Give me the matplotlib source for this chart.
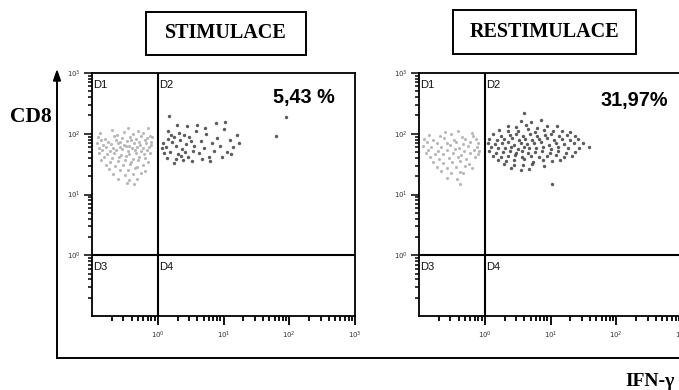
import matplotlib
matplotlib.use("Agg")
import matplotlib.pyplot as plt
import numpy as np
from matplotlib.ticker import FixedLocator, FixedFormatter, NullFormatter
from matplotlib.lines import Line2D
from matplotlib.patches import Rectangle, Polygon

# ---------------- data (fluorescence, in log10 decades) ----------------
panel_titles = ["STIMULACE", "RESTIMULACE"]
percent_labels = ["5,43 %", "31,97%"]
quadrant_names = ["D1", "D2", "D3", "D4"]
tick_exponents = [0, 1, 2, 3]
y_label = "CD8"
x_label = "IFN-\u03b3"

# STIMULACE, quadrant D1 (CD8+, IFN-g-)
stim_d1_x = [-0.70, -0.45, -0.30, -0.15,
             -0.88, -0.62, -0.51, -0.38, -0.22, -0.12,
             -0.91, -0.80, -0.67, -0.55, -0.42, -0.33, -0.25, -0.17, -0.09,
             -0.86, -0.75, -0.64, -0.58, -0.47, -0.40, -0.29, -0.20, -0.11,
             -0.92, -0.83, -0.71, -0.60, -0.52, -0.44, -0.36, -0.27, -0.18, -0.10,
             -0.89, -0.78, -0.68, -0.57, -0.49, -0.39, -0.31, -0.23, -0.14,
             -0.85, -0.73, -0.63, -0.54, -0.46, -0.35, -0.26, -0.16,
             -0.90, -0.77, -0.66, -0.56, -0.43, -0.33, -0.21, -0.12,
             -0.82, -0.69, -0.59, -0.48, -0.37, -0.28, -0.19,
             -0.87, -0.72, -0.61, -0.50, -0.41, -0.30, -0.15,
             -0.79, -0.65, -0.53, -0.42, -0.32, -0.22,
             -0.74, -0.58, -0.45, -0.34, -0.20,
             -0.68, -0.50, -0.38, -0.26,
             -0.60, -0.44, -0.31,
             -0.47, -0.36]
stim_d1_y = [2.06, 2.10, 2.05, 2.09,
             2.01, 1.98, 2.03, 1.99, 2.02, 1.97,
             1.95, 1.92, 1.96, 1.93, 1.95, 1.91, 1.96, 1.93, 1.94,
             1.89, 1.87, 1.90, 1.86, 1.88, 1.90, 1.87, 1.89, 1.86,
             1.84, 1.81, 1.83, 1.85, 1.82, 1.80, 1.84, 1.82, 1.85, 1.81,
             1.77, 1.79, 1.76, 1.78, 1.80, 1.77, 1.79, 1.76, 1.78,
             1.74, 1.71, 1.73, 1.75, 1.72, 1.74, 1.71, 1.73,
             1.68, 1.66, 1.69, 1.65, 1.67, 1.68, 1.66, 1.69,
             1.62, 1.60, 1.61, 1.63, 1.59, 1.62, 1.60,
             1.56, 1.54, 1.55, 1.57, 1.53, 1.56, 1.54,
             1.49, 1.47, 1.48, 1.50, 1.46, 1.48,
             1.42, 1.40, 1.41, 1.43, 1.39,
             1.34, 1.32, 1.33, 1.35,
             1.26, 1.24, 1.25,
             1.19, 1.17]

# STIMULACE, quadrant D2 (CD8+, IFN-g+)
stim_d2_x = [0.08, 0.12, 0.15, 0.18, 0.22, 0.25, 0.28, 0.31, 0.34, 0.37, 0.40, 0.43, 0.46, 0.50,
             0.53, 0.10, 0.14, 0.20, 0.27, 0.33, 0.36, 0.41, 0.47, 0.55, 0.58, 0.62, 0.66, 0.70,
             0.74, 0.78, 0.82, 0.86, 0.90, 0.95, 1.00, 1.05, 1.10, 1.15, 1.20, 1.24, 0.60, 0.72,
             0.88, 1.02, 0.45, 0.30, 0.16, 0.06, 0.24, 0.52, 0.80, 0.98, 1.12, 0.17, 1.95, 1.80,
             0.68, 0.39]
stim_d2_y = [1.85, 1.78, 1.92, 1.70, 1.86, 1.95, 1.80, 1.66, 1.90, 1.75, 1.98, 1.83, 1.62, 1.88,
             1.72, 1.68, 1.60, 1.98, 1.58, 2.02, 1.64, 1.70, 1.94, 1.80, 2.05, 1.68, 1.88, 1.76,
             1.99, 1.62, 1.85, 1.72, 1.93, 1.80, 2.08, 1.70, 1.90, 1.78, 1.98, 1.84, 2.15, 2.10,
             2.18, 2.20, 2.12, 2.15, 2.05, 1.76, 1.52, 1.55, 1.55, 1.62, 1.66, 2.30, 2.28, 1.97,
             1.58, 1.56]

# RESTIMULACE, quadrant D1
restim_d1_x = [-0.60, -0.40, -0.20,
               -0.85, -0.68, -0.52, -0.35, -0.18,
               -0.92, -0.78, -0.62, -0.47, -0.30, -0.14,
               -0.88, -0.73, -0.58, -0.44, -0.33, -0.22, -0.10,
               -0.94, -0.81, -0.66, -0.53, -0.39, -0.26, -0.12,
               -0.86, -0.71, -0.57, -0.45, -0.31, -0.17, -0.08,
               -0.90, -0.76, -0.63, -0.49, -0.36, -0.23, -0.11,
               -0.83, -0.69, -0.55, -0.41, -0.28, -0.15,
               -0.79, -0.64, -0.50, -0.37, -0.24,
               -0.72, -0.57, -0.43, -0.30, -0.19,
               -0.66, -0.51, -0.37,
               -0.58, -0.42, -0.33,
               -0.37]
restim_d1_y = [2.03, 2.05, 2.02,
               1.98, 1.96, 1.99, 1.95, 1.97,
               1.92, 1.90, 1.93, 1.89, 1.91, 1.92,
               1.86, 1.84, 1.85, 1.87, 1.83, 1.86, 1.84,
               1.80, 1.78, 1.79, 1.81, 1.77, 1.80, 1.78,
               1.74, 1.72, 1.73, 1.75, 1.71, 1.74, 1.72,
               1.68, 1.66, 1.67, 1.69, 1.65, 1.68, 1.66,
               1.61, 1.59, 1.60, 1.62, 1.58, 1.61,
               1.54, 1.52, 1.53, 1.55, 1.51,
               1.46, 1.44, 1.45, 1.47, 1.43,
               1.38, 1.36, 1.37,
               1.27, 1.25, 1.35,
               1.18]

# RESTIMULACE, quadrant D2
restim_d2_x = [0.55, 0.70, 0.85,
               0.35, 0.48, 0.62, 0.80, 0.95, 1.10,
               0.22, 0.36, 0.50, 0.66, 0.77, 0.90, 1.04, 1.18, 1.30,
               0.12, 0.25, 0.38, 0.47, 0.58, 0.69, 0.80, 0.92, 1.01, 1.13, 1.25, 1.38,
               0.07, 0.18, 0.30, 0.41, 0.52, 0.61, 0.72, 0.83, 0.94, 1.06, 1.17, 1.29, 1.42,
               0.05, 0.15, 0.26, 0.35, 0.45, 0.55, 0.64, 0.75, 0.86, 0.97, 1.09, 1.21, 1.35, 1.50,
               0.09, 0.20, 0.31, 0.40, 0.50, 0.59, 0.68, 0.78, 0.89, 1.00, 1.12, 1.26, 1.44, 1.58,
               0.06, 0.17, 0.28, 0.38, 0.48, 0.57, 0.66, 0.76, 0.87, 0.99, 1.11, 1.24, 1.38,
               0.12, 0.24, 0.35, 0.46, 0.56, 0.70, 0.82, 0.95, 1.08, 1.20, 1.33,
               0.20, 0.33, 0.45, 0.60, 0.74, 0.88, 1.02, 1.15,
               0.30, 0.44, 0.58, 0.72, 0.90,
               0.40, 0.55, 0.68,
               1.03, 0.60]
restim_d2_y = [2.21, 2.19, 2.22,
               2.13, 2.11, 2.14, 2.10, 2.12, 2.13,
               2.06, 2.04, 2.05, 2.07, 2.03, 2.06, 2.04, 2.05, 2.03,
               1.99, 1.97, 1.98, 2.00, 1.96, 1.99, 1.97, 1.98, 2.00, 1.96, 1.98, 1.97,
               1.92, 1.90, 1.91, 1.93, 1.89, 1.92, 1.90, 1.91, 1.93, 1.89, 1.92, 1.90, 1.91,
               1.85, 1.83, 1.84, 1.86, 1.82, 1.85, 1.83, 1.84, 1.86, 1.82, 1.85, 1.83, 1.84, 1.85,
               1.78, 1.76, 1.77, 1.79, 1.75, 1.78, 1.76, 1.77, 1.79, 1.75, 1.78, 1.76, 1.77, 1.78,
               1.71, 1.69, 1.70, 1.72, 1.68, 1.71, 1.69, 1.70, 1.72, 1.68, 1.71, 1.69, 1.70,
               1.64, 1.62, 1.63, 1.65, 1.61, 1.64, 1.62, 1.63, 1.65, 1.61, 1.63,
               1.57, 1.55, 1.56, 1.58, 1.54, 1.57, 1.55, 1.56,
               1.50, 1.48, 1.49, 1.51, 1.47,
               1.43, 1.41, 1.42,
               1.18, 2.34]

quadrant_gate = 0.0          # decade of the gate lines (10^0)
axis_range = (-1.0, 3.0)     # decades shown on both axes

# ---------------- figure ----------------
W, H = 679, 390
fig = plt.figure(figsize=(W / 100, H / 100), dpi=100)
fig.patch.set_facecolor("white")


def fx(px):
    return px / W


def fy(py):
    return 1 - py / H


serif = ["Liberation Serif", "DejaVu Serif"]
sans = ["Liberation Sans", "DejaVu Sans"]

panels = [
    (92, stim_d1_x, stim_d1_y, stim_d2_x, stim_d2_y),
    (419, restim_d1_x, restim_d1_y, restim_d2_x, restim_d2_y),
]
ax_w_px, ax_top, ax_bot = 263, 73, 316

for i, (x0, d1x, d1y, d2x, d2y) in enumerate(panels):
    ax = fig.add_axes([fx(x0), fy(ax_bot), ax_w_px / W, (ax_bot - ax_top) / H])
    ax.set_xscale("log")
    ax.set_yscale("log")
    lo, hi = 10 ** axis_range[0], 10 ** axis_range[1]

    ax.scatter(10 ** np.array(d1x), 10 ** np.array(d1y), s=5, color="#b8b8b8",
               linewidths=0, zorder=2)
    ax.scatter(10 ** np.array(d2x), 10 ** np.array(d2y), s=6, color="#4a4a4a",
               linewidths=0, alpha=0.9, zorder=2)

    g = 10 ** quadrant_gate
    ax.axvline(g, color="black", lw=1.5, zorder=3)
    ax.axhline(g, color="black", lw=1.5, zorder=3)

    for sp in ax.spines.values():
        sp.set_linewidth(1.3)
        sp.set_color("black")

    majors = [10.0 ** e for e in tick_exponents]
    labels = [r"$10^{%d}$" % e for e in tick_exponents]
    minors = [m * 10.0 ** e for e in range(int(axis_range[0]), int(axis_range[1]))
              for m in range(2, 10)]
    for axis in (ax.xaxis, ax.yaxis):
        axis.set_major_locator(FixedLocator(majors))
        axis.set_major_formatter(FixedFormatter(labels))
        axis.set_minor_locator(FixedLocator(minors))
        axis.set_minor_formatter(NullFormatter())
    ax.tick_params(which="major", direction="out", length=6, width=1.1, color="black",
                   labelsize=5, labelcolor="#333333", pad=2)
    ax.tick_params(which="minor", direction="out", length=3, width=1.1, color="black")
    ax.tick_params(axis="x", which="major", length=6.5, width=1.3, pad=3.5)
    ax.tick_params(axis="x", which="minor", length=3.5, width=1.3)
    ax.set_xlim(lo, hi)
    ax.set_ylim(lo, hi)

    # quadrant names
    for name, (qx, qy) in zip(quadrant_names,
                              [(lo, hi), (g, hi), (lo, g), (g, g)]):
        ax.annotate(name, xy=(qx, qy), xytext=(1, -8.5), textcoords="offset points",
                    ha="left", va="center", fontsize=8, family=sans, color="#111111")

    # percentage
    ax.text([0.806, 0.817][i], [0.901, 0.885][i], percent_labels[i], transform=ax.transAxes,
            ha="center", va="center", fontsize=14.3, fontweight="bold", family=sans)

# title boxes
boxes = [(146, 12, 306, 55), (453, 10, 636, 54)]
for (bx0, by0, bx1, by1), title in zip(boxes, panel_titles):
    fig.add_artist(Rectangle((fx(bx0), fy(by1)), (bx1 - bx0) / W, (by1 - by0) / H,
                             transform=fig.transFigure, fill=False, lw=1.4,
                             edgecolor="black"))
    fig.text(fx((bx0 + bx1) / 2), fy((by0 + by1) / 2), title, ha="center", va="center",
             fontsize=14.5, fontweight="bold", family=serif)

# outer L-shaped axes frame with arrow
fig.add_artist(Line2D([fx(57), fx(57)], [fy(358), fy(78)], transform=fig.transFigure,
                      color="black", lw=1.4))
fig.add_artist(Line2D([fx(56.5), fx(679)], [fy(358), fy(358)], transform=fig.transFigure,
                      color="black", lw=1.4))
fig.add_artist(Polygon([[fx(57), fy(71)], [fx(53.5), fy(81)], [fx(60.5), fy(81)]],
                       closed=True, transform=fig.transFigure, color="black"))

fig.text(fx(31), fy(117), y_label, ha="center", va="center", fontsize=15.5,
         fontweight="bold", family=serif)
fig.text(fx(625), fy(382), x_label, ha="left", va="center", fontsize=14,
         fontweight="bold", family=serif)

fig.savefig("out.png", dpi=100)
